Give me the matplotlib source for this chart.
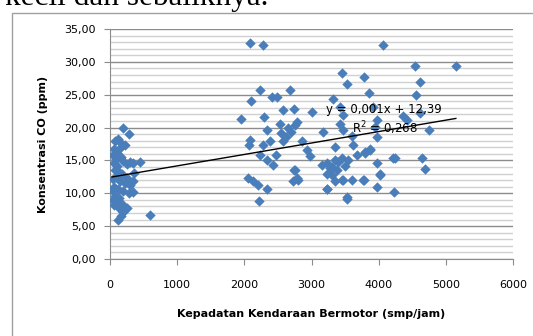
import matplotlib.pyplot as plt
import matplotlib.patches as mpatches
from matplotlib.ticker import FuncFormatter, MultipleLocator

# kepadatan kendaraan (smp/jam)
kepadatan = [60, 40, 80, 120, 198, 280, 230, 150, 90, 60, 110, 160, 200, 250, 300, 446, 342,
             70, 130, 180, 90, 40, 150, 220, 347, 300, 60, 120, 200, 347, 280, 80, 140, 40,
             100, 180, 60, 130, 248, 200, 124, 160, 595, 30, 100, 170, 350, 250,
             2083, 2281, 2232, 2094, 2415, 2490, 2679, 1949, 2292, 2580, 2738, 2332, 2530,
             2650, 2700, 2760, 2083, 2073, 2281, 2381, 2580, 2232, 2332, 2430, 2470, 2738,
             2728, 2058, 2133, 2207, 2341, 2222, 2802, 3225, 3225, 3348, 3472, 3596, 3531,
             3780, 3968, 3448, 3780, 3522, 3854, 3323, 3001, 3423, 3472, 3423, 3174, 2778,
             3472, 3596, 3943, 3968, 2853, 2927, 2976, 3348, 3621, 3869, 3795, 4216, 3225,
             3274, 3448, 3546, 3671, 3968, 4018, 2753, 2778, 3225, 3448, 3770, 3522, 3299,
             3373, 4539, 5149, 4613, 4563, 4365, 4415, 4613, 4752, 4241, 4638, 4688, 4226,
             4068, 3918, 3968, 3795, 3869, 4018, 2550, 2620, 3300, 3400, 3500, 3350, 3150]
# konsentrasi CO (ppm)
konsentrasi = [16.7, 15.8, 17.9, 18.2, 19.9, 19.0, 17.4, 16.9, 15.2, 14.6, 14.2, 15.5, 14.9,
               14.4, 14.8, 14.8, 14.6, 13.6, 13.2, 12.9, 12.5, 12.1, 11.8, 11.5, 11.8, 11.2,
               11.0, 10.6, 10.3, 10.2, 10.0, 9.6, 9.3, 9.0, 8.6, 8.4, 8.2, 7.8, 7.7, 7.2, 5.9,
               6.5, 6.7, 10.5, 16.2, 17.6, 13.1, 12.4,
               32.9, 32.6, 25.7, 24.0, 24.7, 24.7, 25.7, 21.3, 21.6, 22.7, 22.9, 19.7, 20.6,
               20.0, 19.4, 20.4, 18.1, 17.3, 17.3, 17.9, 17.9, 15.8, 15.1, 14.3, 15.8, 13.5,
               11.8, 12.3, 11.8, 11.3, 10.6, 8.9, 12.0, 13.0, 10.6, 11.8, 12.0, 12.0, 9.2,
               12.0, 11.0, 28.3, 27.7, 26.6, 25.3, 24.3, 22.4, 23.2, 21.9, 20.6, 19.4, 20.9,
               19.6, 18.7, 20.1, 18.6, 17.9, 16.6, 15.6, 17.0, 17.3, 16.6, 16.1, 15.3, 14.6,
               13.8, 15.3, 15.1, 15.8, 14.6, 13.0, 13.5, 12.3, 10.7, 12.0, 12.0, 9.5, 12.8,
               13.5, 29.3, 29.3, 27.0, 25.0, 21.7, 21.2, 22.2, 19.6, 15.3, 15.3, 13.7, 10.2,
               32.6, 23.2, 21.2, 16.3, 16.8, 12.8, 19.2, 18.6, 14.0, 14.8, 14.2, 15.0, 14.3]

trend_slope = 0.00174
trend_intercept = 12.43
label_persamaan = "y = 0,001x + 12,39"
label_r2 = "R$^2$ = 0,268"

fig = plt.figure(figsize=(5.33, 3.36), dpi=100)
ax = fig.add_axes([110 / 533, 1 - 259 / 336, 403 / 533, 230 / 336])

# bingkai grafik dan potongan teks dokumen di atasnya
fig.patches.append(mpatches.Rectangle((12 / 533, -0.1), 1.2, 1.1 - 13 / 336,
                                      transform=fig.transFigure, fill=False,
                                      edgecolor='#a0a0a0', linewidth=1))
fig.text(5 / 533, 1 - 5 / 336, "kecil dan sebaliknya.", family='Liberation Serif',
         fontsize=22.5, va='baseline', ha='left')

ax.scatter(kepadatan, konsentrasi, marker='D', s=28, color='#4a7ebb', zorder=3,
           linewidths=0)

x0, x1 = min(kepadatan), max(kepadatan)
ax.plot([x0, x1], [trend_intercept + trend_slope * x0, trend_intercept + trend_slope * x1],
        color='black', linewidth=1, zorder=4)
ax.text(4940, 22.8, label_persamaan, ha='right', va='center', fontsize=8.5, zorder=5)
ax.text(4580, 19.9, label_r2, ha='right', va='center', fontsize=8.5, zorder=5)

ax.set_xlim(0, 6000)
ax.set_ylim(0, 35)
ax.xaxis.set_major_locator(MultipleLocator(1000))
ax.yaxis.set_major_locator(MultipleLocator(5))
ax.yaxis.set_minor_locator(MultipleLocator(1))
ax.yaxis.set_major_formatter(FuncFormatter(lambda v, p: f"{v:.2f}".replace('.', ',')))
ax.grid(axis='y', which='major', color='#8c8c8c', linewidth=1)
ax.grid(axis='y', which='minor', color='#d0d0d0', linewidth=1)
ax.set_axisbelow(True)
for s in ['top', 'right']:
    ax.spines[s].set_visible(False)
for s in ['left', 'bottom']:
    ax.spines[s].set_color('#8c8c8c')
ax.tick_params(axis='both', which='major', length=4, color='#8c8c8c', labelsize=8)
ax.tick_params(axis='y', which='minor', length=0)
ax.tick_params(axis='x', pad=11)
ax.tick_params(axis='y', pad=6)

ax.set_xlabel("Kepadatan Kendaraan Bermotor (smp/jam)", fontsize=8, fontweight='bold',
              labelpad=14)
ax.set_ylabel("Konsentrasi CO (ppm)", fontsize=8, fontweight='bold', labelpad=12)

fig.savefig("out.png", dpi=100)
